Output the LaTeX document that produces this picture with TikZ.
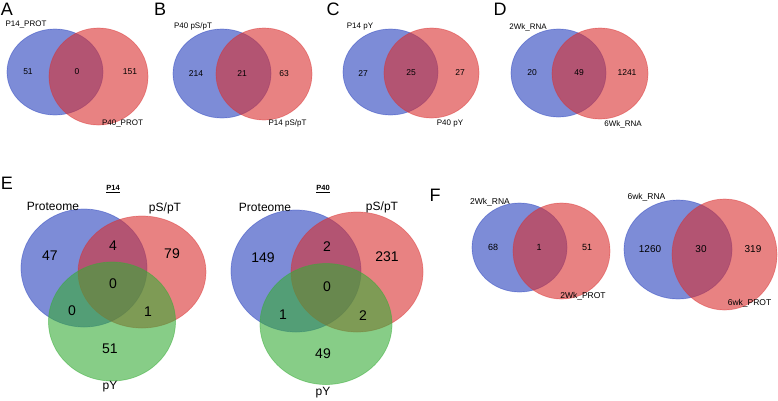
\documentclass[tikz,border=0pt]{standalone}
\usepackage{fontspec}
\setmainfont{Liberation Sans}
\definecolor{vblue}{RGB}{38,63,188}
\definecolor{vred}{RGB}{217,47,47}
\definecolor{vgreen}{RGB}{55,172,55}
\begin{document}
\begin{tikzpicture}[x=1pt,y=-1pt,
  bset/.style={fill=vblue, fill opacity=0.6, draw=vblue, draw opacity=0.45, line width=0.7pt},
  rset/.style={fill=vred, fill opacity=0.6, draw=vred, draw opacity=0.45, line width=0.7pt},
  gset/.style={fill=vgreen, fill opacity=0.6, draw=vgreen, draw opacity=0.5, line width=0.7pt},
  plet/.style={inner sep=0pt, font=\fontsize{18}{20}\selectfont},
  lab/.style={inner sep=0pt, font=\fontsize{8}{9}\selectfont},
  num/.style={inner sep=0pt, font=\fontsize{8.5}{10}\selectfont},
  elab/.style={inner sep=0pt, font=\fontsize{12}{14}\selectfont},
  enum/.style={inner sep=0pt, font=\fontsize{14}{16}\selectfont},
  etit/.style={inner sep=0pt, font=\bfseries\fontsize{7.5}{9}\selectfont},
  flab/.style={inner sep=0pt, font=\fontsize{8.5}{10}\selectfont},
  fnumA/.style={inner sep=0pt, font=\fontsize{9}{10}\selectfont},
  fnumB/.style={inner sep=0pt, font=\fontsize{10}{12}\selectfont}]
\useasboundingbox (0,0) rectangle (778,400);

% ---------- A ----------
\path[bset] (55,72) ellipse [x radius=48pt, y radius=43pt];
\path[rset] (98.5,76.5) ellipse [x radius=49.5pt, y radius=48.5pt];
\node[plet] (lA) at (7,9) {A};
\node[lab] (a0) at (26,24) {P14\_PROT};
\node[num] (a1) at (28,72) {51};
\node[num] (a2) at (77,72) {0};
\node[num] (a3) at (130,72) {151};
\node[lab] (a4) at (122.5,123) {P40\_PROT};

% ---------- B ----------
\path[bset] (222,73.5) ellipse [x radius=49pt, y radius=44.5pt];
\path[rset] (264,74) ellipse [x radius=48pt, y radius=46pt];
\node[plet] (lB) at (160,9) {B};
\node[lab] (b0) at (193,26) {P40 pS/pT};
\node[num] (b1) at (196,74) {214};
\node[num] (b2) at (242,74) {21};
\node[num] (b3) at (284,74) {63};
\node[lab] (b4) at (287.5,123) {P14 pS/pT};

% ---------- C ----------
\path[bset] (390.5,72) ellipse [x radius=47.5pt, y radius=43pt];
\path[rset] (431.5,73) ellipse [x radius=47.5pt, y radius=45pt];
\node[plet] (lC) at (333,9) {C};
\node[lab] (c0) at (360,27) {P14 pY};
\node[num] (c1) at (363,74) {27};
\node[num] (c2) at (411,73) {25};
\node[num] (c3) at (460,73) {27};
\node[lab] (c4) at (450,124) {P40 pY};

% ---------- D ----------
\path[bset] (558.5,73) ellipse [x radius=47.5pt, y radius=44pt];
\path[rset] (600,73.5) ellipse [x radius=48pt, y radius=45.5pt];
\node[plet] (lD) at (500,9) {D};
\node[lab] (d0) at (528,27) {2Wk\_RNA};
\node[num] (d1) at (532,73) {20};
\node[num] (d2) at (579,73) {49};
\node[num] (d3) at (627,73) {1241};
\node[lab] (d4) at (623,124) {6Wk\_RNA};

% ---------- E (P14) ----------
\path[bset] (84,268) ellipse [x radius=63pt, y radius=59pt];
\path[rset] (142,272) ellipse [x radius=64pt, y radius=56pt];
\path[gset] (112,321.5) ellipse [x radius=63.5pt, y radius=59.5pt];
\node[plet] (lE) at (7,183) {E};
\node[etit] (e0) at (113,189) {\underline{P14}};
\node[elab] (e1) at (53,206) {Proteome};
\node[elab] (e2) at (165,208) {pS/pT};
\node[enum] (e3) at (50,256) {47};
\node[enum] (e4) at (113,246) {4};
\node[enum] (e5) at (172,254) {79};
\node[enum] (e6) at (113,284) {0};
\node[enum] (e7) at (72,311) {0};
\node[enum] (e8) at (148,312) {1};
\node[enum] (e9) at (110,349) {51};
\node[elab] (e10) at (110,387) {pY};

% ---------- E (P40) ----------
\path[bset] (296,271) ellipse [x radius=65pt, y radius=61pt];
\path[rset] (357,272) ellipse [x radius=66pt, y radius=60pt];
\path[gset] (326,324) ellipse [x radius=66pt, y radius=60.5pt];
\node[etit] (f0) at (323,189) {\underline{P40}};
\node[elab] (f1) at (265,207) {Proteome};
\node[elab] (f2) at (382,207) {pS/pT};
\node[enum] (f3) at (263,258) {149};
\node[enum] (f4) at (327,247) {2};
\node[enum] (f5) at (387,257) {231};
\node[enum] (f6) at (327,287) {0};
\node[enum] (f7) at (283,315) {1};
\node[enum] (f8) at (363,316) {2};
\node[enum] (f9) at (323,354) {49};
\node[elab] (f10) at (323,393) {pY};

% ---------- F (2Wk) ----------
\path[bset] (519.5,247.5) ellipse [x radius=47.5pt, y radius=44.5pt];
\path[rset] (561.5,251) ellipse [x radius=48.5pt, y radius=48pt];
\node[plet] (lF) at (435,195) {F};
\node[flab] (g0) at (490,202) {2Wk\_RNA};
\node[fnumA] (g1) at (493,247) {68};
\node[fnumA] (g2) at (539,247) {1};
\node[fnumA] (g3) at (587,247) {51};
\node[flab] (g4) at (583,296) {2Wk\_PROT};

% ---------- F (6wk) ----------
\path[bset] (678,249.5) ellipse [x radius=54pt, y radius=49.5pt];
\path[rset] (724.5,254.5) ellipse [x radius=52.5pt, y radius=55.5pt];
\node[flab] (h0) at (646.5,197) {6wk\_RNA};
\node[fnumB] (h1) at (650,249) {1260};
\node[fnumB] (h2) at (701,249) {30};
\node[fnumB] (h3) at (753,249) {319};
\node[flab] (h4) at (749.5,303) {6wk\_PROT};
\end{tikzpicture}
\end{document}
